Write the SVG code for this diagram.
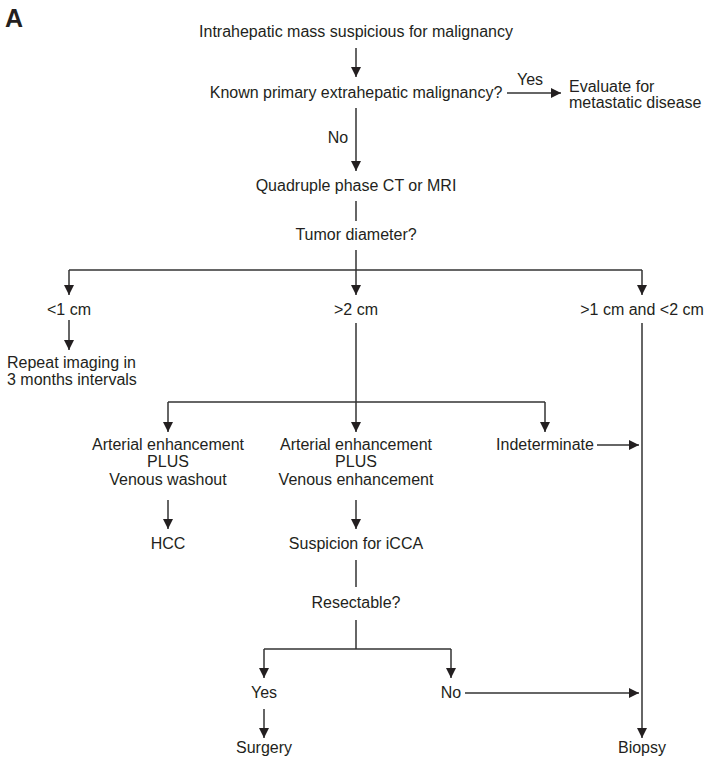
<svg xmlns="http://www.w3.org/2000/svg" width="709" height="762" viewBox="0 0 709 762">
<style>
text{font-family:"Liberation Sans",Arial,sans-serif;font-size:16px;fill:#231f20}
.c{text-anchor:middle}
.ln{stroke:#333;stroke-width:1.5;fill:none}
.ar{marker-end:url(#ah)}
</style>
<defs>
<marker id="ah" markerUnits="userSpaceOnUse" markerWidth="12" markerHeight="12" refX="10" refY="5" orient="auto">
<path d="M0,0 L10,5 L0,10 Z" fill="#231f20"/>
</marker>
</defs>
<rect width="709" height="762" fill="#fff"/>
<text x="5" y="27" style="font-size:25px;font-weight:bold">A</text>
<g id="n-start"><text class="c" x="356" y="37">Intrahepatic mass suspicious for malignancy</text></g>
<g id="n-known"><text class="c" x="356" y="98">Known primary extrahepatic malignancy?</text></g>
<g id="n-evaluate"><text x="569" y="92">Evaluate for</text><text x="569" y="108">metastatic disease</text></g>
<g id="n-quad"><text class="c" x="356" y="191">Quadruple phase CT or MRI</text></g>
<g id="n-tumor"><text class="c" x="356" y="240">Tumor diameter?</text></g>
<g id="n-lt1"><text class="c" x="69" y="315">&lt;1 cm</text></g>
<g id="n-gt2"><text class="c" x="356" y="315">&gt;2 cm</text></g>
<g id="n-1to2"><text class="c" x="642" y="315">&gt;1 cm and &lt;2 cm</text></g>
<g id="n-repeat"><text x="7" y="368">Repeat imaging in</text><text x="7" y="385">3 months intervals</text></g>
<g id="n-washout"><text class="c" x="168" y="450">Arterial enhancement</text><text class="c" x="168" y="467">PLUS</text><text class="c" x="168" y="485">Venous washout</text></g>
<g id="n-venenh"><text class="c" x="356" y="450">Arterial enhancement</text><text class="c" x="356" y="467">PLUS</text><text class="c" x="356" y="485">Venous enhancement</text></g>
<g id="n-indet"><text class="c" x="545" y="450">Indeterminate</text></g>
<g id="n-hcc"><text class="c" x="168" y="549">HCC</text></g>
<g id="n-icca"><text class="c" x="356" y="549">Suspicion for iCCA</text></g>
<g id="n-resect"><text class="c" x="356" y="608">Resectable?</text></g>
<g id="n-yes"><text class="c" x="264" y="698">Yes</text></g>
<g id="n-no"><text class="c" x="451" y="698">No</text></g>
<g id="n-surgery"><text class="c" x="264" y="753">Surgery</text></g>
<g id="n-biopsy"><text class="c" x="642" y="753">Biopsy</text></g>
<g id="connectors">
<line class="ln ar" x1="356" y1="48" x2="356" y2="77"/>
<line class="ln ar" x1="507" y1="93" x2="561" y2="93"/>
<text class="c" x="530" y="85">Yes</text>
<line class="ln ar" x1="356" y1="108" x2="356" y2="171"/>
<text class="c" x="338" y="143">No</text>
<line class="ln" x1="356" y1="201" x2="356" y2="221"/>
<line class="ln" x1="356" y1="250" x2="356" y2="270"/>
<path class="ln" d="M69,270 H642"/>
<line class="ln ar" x1="69" y1="270" x2="69" y2="295"/>
<line class="ln ar" x1="356" y1="270" x2="356" y2="295"/>
<line class="ln ar" x1="642" y1="270" x2="642" y2="295"/>
<line class="ln ar" x1="69" y1="320" x2="69" y2="350"/>
<line class="ln" x1="356" y1="323" x2="356" y2="402"/>
<path class="ln" d="M168,402 H545"/>
<line class="ln ar" x1="168" y1="402" x2="168" y2="432"/>
<line class="ln ar" x1="356" y1="402" x2="356" y2="432"/>
<line class="ln ar" x1="545" y1="402" x2="545" y2="432"/>
<line class="ln ar" x1="597" y1="445" x2="639" y2="445"/>
<line class="ln ar" x1="642" y1="323" x2="642" y2="738"/>
<line class="ln ar" x1="168" y1="500" x2="168" y2="529"/>
<line class="ln ar" x1="356" y1="500" x2="356" y2="529"/>
<line class="ln" x1="356" y1="560" x2="356" y2="587"/>
<line class="ln" x1="356" y1="620" x2="356" y2="649"/>
<path class="ln" d="M264,649 H451"/>
<line class="ln ar" x1="264" y1="649" x2="264" y2="678"/>
<line class="ln ar" x1="451" y1="649" x2="451" y2="678"/>
<line class="ln ar" x1="465" y1="693" x2="639" y2="693"/>
<line class="ln ar" x1="264" y1="709" x2="264" y2="738"/>
</g>
</svg>
